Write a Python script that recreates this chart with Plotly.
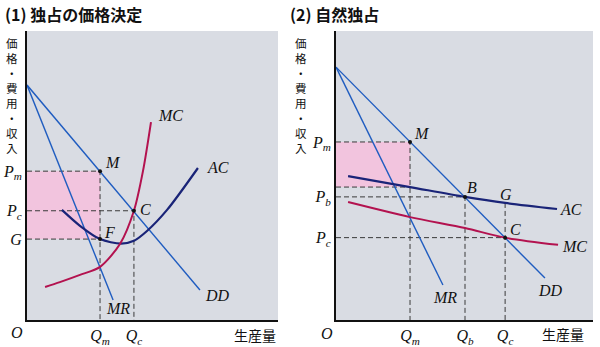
import plotly.graph_objects as go

# ---------------- Panel 1: 独占の価格決定 (units 0-100) ----------------
p1_dd_x = [0, 68.9]
p1_dd_y = [81.3, 10.4]
p1_mr_x = [0, 34.3]
p1_mr_y = [81.3, 6.9]
p1_mc_x = [7.2, 13.1, 21.1, 29.1, 37.1, 42.6, 46.2, 49.4]
p1_mc_y = [11.4, 13.1, 15.6, 18.4, 26.4, 37.8, 51.5, 68.5]
p1_ac_x = [13.9, 21.1, 29.1, 37.5, 42.6, 47.8, 55.8, 68.1]
p1_ac_y = [38.1, 32.6, 28.0, 26.4, 27.4, 30.8, 38.1, 52.6]
p1_Qm, p1_Qc = 29.1, 42.6
p1_Pm, p1_Pc, p1_G = 51.5, 37.8, 28.0

# ---------------- Panel 2: 自然独占 (units 0-100) ----------------
p2_dd_x = [0, 81.3]
p2_dd_y = [87.5, 14.5]
p2_mr_x = [0, 41.6]
p2_mr_y = [87.5, 12.1]
p2_ac_x = [4.7, 28.8, 50.2, 65.8, 86.0]
p2_ac_y = [49.8, 46.0, 42.6, 40.5, 38.4]
p2_mc_x = [4.7, 28.8, 50.2, 65.8, 86.4]
p2_mc_y = [40.8, 35.6, 31.8, 28.5, 26.0]
p2_Qm, p2_Qb, p2_Qc = 28.8, 50.2, 65.8
p2_Pm, p2_Pb, p2_Pc = 61.6, 42.6, 28.5
p2_ACm, p2_G = 46.0, 40.5

ylabel_chars = ["価", "格", "・", "費", "用", "・", "収", "入"]

BLUE = "#1f5cc0"
NAVY = "#1a2478"
RED = "#b3124f"
DASH = "#3a3a3a"
PINK = "#f2c4de"
BG = "#d9dce3"
SERIF = "Liberation Serif"
JP = "Noto Sans CJK JP"

W, H = 600, 347


def px(x, y):
    return x / W, 1 - y / H


fig = go.Figure()


def line(x, y, color, width, xa, ya, spline=False):
    fig.add_trace(go.Scatter(
        x=x, y=y, mode="lines", xaxis=xa, yaxis=ya, hoverinfo="skip",
        line=dict(color=color, width=width,
                  shape="spline" if spline else "linear", smoothing=0.8)))


def dashed(x, y, xa, ya):
    fig.add_trace(go.Scatter(
        x=x, y=y, mode="lines", xaxis=xa, yaxis=ya, hoverinfo="skip",
        line=dict(color=DASH, width=1, dash="5px,3px")))


def dots(x, y, xa, ya):
    fig.add_trace(go.Scatter(
        x=x, y=y, mode="markers", xaxis=xa, yaxis=ya, hoverinfo="skip",
        marker=dict(color="#111", size=4)))


# pink areas
fig.add_shape(type="rect", xref="x", yref="y", x0=0, x1=p1_Qm, y0=p1_G, y1=p1_Pm,
              fillcolor=PINK, line_width=0, layer="below")
fig.add_shape(type="rect", xref="x2", yref="y2", x0=0, x1=p2_Qm, y0=p2_ACm, y1=p2_Pm,
              fillcolor=PINK, line_width=0, layer="below")

# panel 1 dashed guides
dashed([0, p1_Qm, p1_Qm], [p1_Pm, p1_Pm, 0], "x", "y")
dashed([0, p1_Qc, p1_Qc], [p1_Pc, p1_Pc, 0], "x", "y")
dashed([0, p1_Qm], [p1_G, p1_G], "x", "y")

# panel 1 curves
line(p1_dd_x, p1_dd_y, BLUE, 1.4, "x", "y")
line(p1_mr_x, p1_mr_y, BLUE, 1.4, "x", "y")
line(p1_ac_x, p1_ac_y, NAVY, 2.2, "x", "y", spline=True)
line(p1_mc_x, p1_mc_y, RED, 2.0, "x", "y", spline=True)
dots([p1_Qm, p1_Qc, p1_Qm], [p1_Pm, p1_Pc, p1_G], "x", "y")

# panel 2 dashed guides
dashed([0, p2_Qm, p2_Qm], [p2_Pm, p2_Pm, 0], "x2", "y2")
dashed([0, p2_Qm], [p2_ACm, p2_ACm], "x2", "y2")
dashed([0, p2_Qb, p2_Qb], [p2_Pb, p2_Pb, 0], "x2", "y2")
dashed([0, p2_Qc], [p2_Pc, p2_Pc], "x2", "y2")
dashed([p2_Qc, p2_Qc], [p2_G, 0], "x2", "y2")

# panel 2 curves
line(p2_dd_x, p2_dd_y, BLUE, 1.4, "x2", "y2")
line(p2_mr_x, p2_mr_y, BLUE, 1.4, "x2", "y2")
line(p2_ac_x, p2_ac_y, NAVY, 2.2, "x2", "y2", spline=True)
line(p2_mc_x, p2_mc_y, RED, 2.0, "x2", "y2", spline=True)
dots([p2_Qm, p2_Qb, p2_Qc], [p2_Pm, p2_Pb, p2_Pc], "x2", "y2")

ann = []


def label(text, x, y, size=16, font=SERIF, color="#111", anchor="center", yanchor="middle"):
    X, Y = px(x, y)
    ann.append(dict(text=text, x=X, y=Y, xref="paper", yref="paper",
                    showarrow=False, xanchor=anchor, yanchor=yanchor,
                    font=dict(family=font, size=size, color=color)))


# titles
label("<b>(1) 独占の価格決定</b>", 3, 14, size=16, font=JP, anchor="left")
label("<b>(2) 自然独占</b>", 288, 14, size=16, font=JP, anchor="left")

# vertical y labels (one character per line)
vtext = "<br>".join(ylabel_chars)
label(vtext, 12, 33, size=11.5, font=JP, yanchor="top")
label(vtext, 301, 33, size=11.5, font=JP, yanchor="top")

# origin and x-axis captions
label("<i>O</i>", 17, 332)
label("<i>O</i>", 327, 333)
label("生産量", 255, 335, size=14, font=JP)
label("生産量", 563, 334, size=14, font=JP)

# curve / point labels panel 1
label("<i>MC</i>", 170, 115)
label("<i>AC</i>", 218, 167)
label("<i>DD</i>", 217, 295)
label("<i>MR</i>", 118, 308)
label("<i>M</i>", 113, 162)
label("<i>C</i>", 145, 209)
label("<i>F</i>", 110, 232)

# curve / point labels panel 2
label("<i>M</i>", 422, 133)
label("<i>B</i>", 472, 187)
label("<i>G</i>", 506, 194)
label("<i>C</i>", 515, 229)
label("<i>AC</i>", 571, 209)
label("<i>MC</i>", 574, 246)
label("<i>MR</i>", 445, 297)
label("<i>DD</i>", 550, 290)

ax_common = dict(range=[0, 100], showgrid=False, zeroline=False, showline=True,
                 linecolor="#111", linewidth=2, ticks="", fixedrange=True,
                 automargin=False,
                 tickfont=dict(family=SERIF, size=16, color="#111"))

fig.update_layout(
    width=W, height=H, margin=dict(l=0, r=0, t=0, b=0),
    paper_bgcolor="white", plot_bgcolor=BG, showlegend=False,
    xaxis=dict(domain=[27 / W, 278 / W], anchor="y",
               tickvals=[p1_Qm, p1_Qc],
               ticktext=["<i>Q<sub>m</sub></i>", "<i>Q<sub>c</sub></i>"], **ax_common),
    yaxis=dict(domain=[27 / H, 316 / H], anchor="x",
               tickvals=[p1_G, p1_Pc, p1_Pm],
               ticktext=["<i>G</i>", "<i>P<sub>c</sub></i>", "<i>P<sub>m</sub></i>"], **ax_common),
    xaxis2=dict(domain=[336 / W, 593 / W], anchor="y2",
                tickvals=[p2_Qm, p2_Qb, p2_Qc],
                ticktext=["<i>Q<sub>m</sub></i>", "<i>Q<sub>b</sub></i>", "<i>Q<sub>c</sub></i>"], **ax_common),
    yaxis2=dict(domain=[27 / H, 316 / H], anchor="x2",
                tickvals=[p2_Pc, p2_Pb, p2_Pm],
                ticktext=["<i>P<sub>c</sub></i>", "<i>P<sub>b</sub></i>", "<i>P<sub>m</sub></i>"], **ax_common),
    annotations=ann,
)

fig.write_html("out.html")
